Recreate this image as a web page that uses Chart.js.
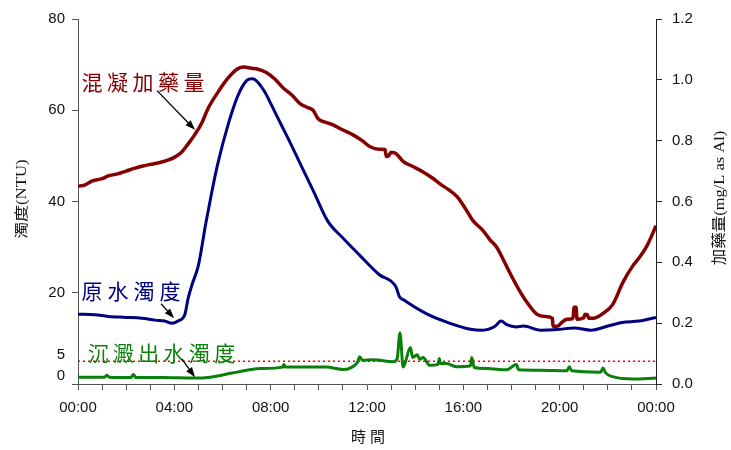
<!DOCTYPE html>
<html>
<head>
<meta charset="utf-8">
<script src="https://cdn.jsdelivr.net/npm/chart.js@4.4.0/dist/chart.umd.min.js"></script>
<style>
html, body { margin: 0; padding: 0; background: #fff; }
</style>
</head>
<body>
<canvas id="chart" width="731" height="450"></canvas>
<script>
'use strict';

// coagulant dose (mg/L as Al), right axis
var doseHours = [0, 0.3, 0.6, 1.0, 1.25, 1.6, 2.0, 2.3, 2.65, 3.0, 3.4, 3.7, 4.0, 4.3, 4.55, 4.85, 5.15, 5.4, 5.8, 6.2,
    6.6, 6.9, 7.2, 7.47, 7.8, 8.17, 8.5, 8.88, 9.22, 9.5, 9.76, 9.97, 10.3, 10.59, 11.0, 11.42, 11.8, 12.13, 12.5, 12.75,
    12.8, 12.9, 13.0, 13.2, 13.5, 13.9, 14.33, 14.7, 15.03, 15.4, 15.74, 16.1, 16.4, 16.8, 17.1, 17.4, 17.65, 18.0, 18.36, 18.7,
    19.06, 19.4, 19.7, 19.72, 19.9, 20.1, 20.3, 20.55, 20.6, 20.68, 20.72, 21.0, 21.05, 21.15, 21.2, 21.4, 21.8, 22.2, 22.63, 23.05,
    23.3, 23.63, 24]
var doseValues = [0.65, 0.655, 0.668, 0.675, 0.684, 0.69, 0.70, 0.708, 0.716, 0.722, 0.728, 0.735, 0.745, 0.762, 0.787, 0.82, 0.86, 0.906, 0.958, 1.003,
    1.035, 1.042, 1.038, 1.035, 1.025, 1.003, 0.975, 0.95, 0.922, 0.91, 0.9, 0.872, 0.86, 0.852, 0.835, 0.819, 0.80, 0.78, 0.772, 0.771,
    0.748, 0.75, 0.762, 0.758, 0.732, 0.715, 0.697, 0.678, 0.658, 0.638, 0.616, 0.575, 0.537, 0.506, 0.475, 0.448, 0.41, 0.355, 0.303, 0.262,
    0.229, 0.222, 0.216, 0.19, 0.19, 0.203, 0.213, 0.215, 0.252, 0.252, 0.213, 0.218, 0.229, 0.228, 0.216, 0.216, 0.232, 0.261, 0.335, 0.39,
    0.415, 0.455, 0.52]

// raw water turbidity (NTU), left axis
var rawHours = [0, 0.7, 1.25, 2.0, 2.65, 3.2, 3.6, 3.9, 4.15, 4.44, 4.57, 4.73, 5.0, 5.3, 5.56, 5.8, 6.23, 6.64, 7.0, 7.22,
    7.35, 7.77, 8.0, 8.47, 8.8, 9.3, 9.8, 10.37, 11.0, 11.7, 12.5, 13.2, 13.35, 13.5, 14.5, 15.45, 16.3, 16.8, 17.3, 17.57,
    17.8, 18.2, 18.5, 19.2, 20.0, 20.6, 21.3, 22.0, 22.6, 23.3, 24]
var rawValues = [15.3, 15.2, 14.8, 14.6, 14.4, 14.0, 13.8, 13.3, 13.8, 15.3, 18.7, 21.7, 26, 35, 42.2, 48.2, 56.8, 63.2, 66.5, 66.9,
    66.7, 63.9, 61.5, 56.5, 53, 47.5, 42, 35.7, 32, 28.2, 24, 21.3, 19.1, 18.5, 15.3, 13.3, 12, 11.8, 12.6, 13.8,
    13, 12.5, 12.7, 11.8, 12, 12.3, 11.8, 12.7, 13.5, 13.8, 14.6]

// settled water turbidity (NTU), left axis
var settledHours = [0, 1.1, 1.2, 1.3, 2.2, 2.3, 2.4, 3.5, 4.8, 5.5, 6.4, 7.0, 7.6, 8.5, 8.55, 8.6, 10.3, 11.0, 11.3, 11.6,
    11.7, 11.8, 12.25, 13.1, 13.25, 13.37, 13.5, 13.8, 13.9, 14.08, 14.2, 14.33, 14.6, 14.95, 15.0, 15.05, 15.3, 15.7, 16.3, 16.35,
    16.45, 17.0, 17.8, 18.2, 18.3, 19.2, 20.3, 20.4, 20.5, 21.7, 21.8, 21.9, 22.2, 23.05, 24]
var settledValues = [1.5, 1.5, 1.9, 1.5, 1.4, 2.1, 1.4, 1.4, 1.3, 1.5, 2.4, 3.0, 3.4, 3.7, 4.3, 3.7, 3.7, 3.2, 3.5, 4.7,
    6.0, 5.2, 5.3, 4.9, 5.5, 11.2, 3.7, 8.0, 5.8, 6.4, 5.4, 5.8, 4.1, 4.3, 5.6, 4.5, 4.5, 3.8, 4.0, 5.8,
    3.6, 3.4, 3.1, 4.3, 3.1, 3.0, 2.9, 3.8, 2.9, 2.6, 3.5, 2.5, 1.6, 1.1, 1.3]

// 5 NTU reference line
var limitHours = [0, 24]
var limitValues = [5, 5]

var leftTicks = [0, 20, 40, 60, 80]
var smallLeftLabels = [0, 5]

function toPoints(hours, values) {
    return hours.map(function (h, i) { return { x: h, y: values[i] } })
}

function pad(n) {
    return (n < 10 ? '0' : '') + n
}

function spacedText(ctx, text, x, y, adv) {
    var chars = Array.from(text)
    for (let i = 0; i < chars.length; i++) {
        ctx.fillText(chars[i], x + i * adv, y)
    }
}

function arrow(ctx, x1, y1, x2, y2) {
    let ang = Math.atan2(y2 - y1, x2 - x1)
    let len = 10
    ctx.beginPath()
    ctx.moveTo(x1, y1)
    ctx.lineTo(x2 - Math.cos(ang) * 4, y2 - Math.sin(ang) * 4)
    ctx.stroke()
    ctx.beginPath()
    ctx.moveTo(x2, y2)
    ctx.lineTo(x2 - len * Math.cos(ang) + 3.5 * Math.sin(ang), y2 - len * Math.sin(ang) - 3.5 * Math.cos(ang))
    ctx.lineTo(x2 - len * Math.cos(ang) - 3.5 * Math.sin(ang), y2 - len * Math.sin(ang) + 3.5 * Math.cos(ang))
    ctx.closePath()
    ctx.fill()
}

// labels with arrows, in (hours, NTU)
var notes = [
    { text: '混凝加藥量', color: '#850000', at: [0.15, 66.2], adv: 25.5, from: [3.28, 64.3], to: [4.86, 55.7] },
    { text: '原水濁度', color: '#000080', at: [0.15, 20.4], adv: 26, from: [3.45, 17.6], to: [3.99, 14.4] },
    { text: '沉澱出水濁度', color: '#0a7f0a', at: [0.4, 6.9], adv: 25.3, from: [4.32, 5.4], to: [4.86, 1.5] }
]

var extras = {
    id: 'extras',
    afterDraw: function (chart) {
        let ctx = chart.ctx
        let sx = chart.scales.x
        let sy = chart.scales.y
        ctx.save()

        // small labels near the bottom of the left axis
        ctx.fillStyle = '#111'
        ctx.font = '15px "Liberation Sans", Arial, sans-serif'
        ctx.textAlign = 'right'
        ctx.textBaseline = 'middle'
        ctx.fillText('5', 65, sy.getPixelForValue(5) - 6)
        ctx.fillText('0', 65, sy.getPixelForValue(0) - 8)

        // axis titles
        ctx.fillStyle = '#111'
        ctx.textAlign = 'center'
        ctx.font = '14px "Liberation Serif", "Noto Sans CJK TC", serif'
        ctx.save()
        ctx.translate(22, 199)
        ctx.rotate(-Math.PI / 2)
        ctx.scale(1.2, 1)
        ctx.fillText('濁度(NTU)', 0, 0)
        ctx.restore()

        ctx.font = '15px "Liberation Serif", "Noto Sans CJK TC", serif'
        ctx.save()
        ctx.translate(720, 198)
        ctx.rotate(-Math.PI / 2)
        ctx.scale(1.1, 1)
        ctx.fillText('加藥量(mg/L as Al)', 0, 0)
        ctx.restore()

        ctx.font = '15px "Noto Sans CJK TC", sans-serif'
        ctx.textAlign = 'left'
        spacedText(ctx, '時間', 351, 436, 19)

        // series labels and arrows
        for (let n of notes) {
            ctx.fillStyle = n.color
            ctx.font = '21px "Noto Sans CJK TC", sans-serif'
            ctx.textAlign = 'left'
            ctx.textBaseline = 'middle'
            spacedText(ctx, n.text, sx.getPixelForValue(n.at[0]), sy.getPixelForValue(n.at[1]), n.adv)
            ctx.strokeStyle = '#000'
            ctx.fillStyle = '#000'
            ctx.lineWidth = 1.3
            arrow(ctx, sx.getPixelForValue(n.from[0]), sy.getPixelForValue(n.from[1]),
                sx.getPixelForValue(n.to[0]), sy.getPixelForValue(n.to[1]))
        }
        ctx.restore()
    }
}

var tickFont = { family: '"Liberation Sans", Arial, sans-serif', size: 15 }
var axisColor = '#555'

var config = {
    type: 'line',
    data: {
        datasets: [
            {
                label: '混凝加藥量', data: toPoints(doseHours, doseValues), yAxisID: 'y2',
                borderColor: '#850000', borderWidth: 3.5, pointRadius: 0, cubicInterpolationMode: 'monotone'
            },
            {
                label: '原水濁度', data: toPoints(rawHours, rawValues), yAxisID: 'y',
                borderColor: '#000080', borderWidth: 3, pointRadius: 0, cubicInterpolationMode: 'monotone'
            },
            {
                label: '沉澱出水濁度', data: toPoints(settledHours, settledValues), yAxisID: 'y',
                borderColor: '#0a7f0a', borderWidth: 3, pointRadius: 0, cubicInterpolationMode: 'monotone'
            },
            {
                label: '5 NTU', data: toPoints(limitHours, limitValues), yAxisID: 'y',
                borderColor: '#ff0000', borderWidth: 1.5, borderDash: [2, 3], pointRadius: 0
            }
        ]
    },
    options: {
        responsive: false,
        animation: false,
        devicePixelRatio: 1,
        layout: { padding: { top: 12, left: 0, right: 0, bottom: 0 } },
        plugins: { legend: { display: false }, tooltip: { enabled: false } },
        scales: {
            x: {
                type: 'linear', min: 0, max: 24, position: 'bottom',
                ticks: {
                    stepSize: 1, autoSkip: false, maxRotation: 0, font: tickFont, color: '#111', padding: 9,
                    callback: function (v) { return v % 4 === 0 ? pad(v % 24) + ':00' : '' }
                },
                grid: { drawOnChartArea: false, drawTicks: true, tickLength: 6, color: axisColor },
                border: { display: true, color: axisColor, width: 1 },
                afterFit: function (s) { s.height = 66 }
            },
            y: {
                type: 'linear', min: 0, max: 80, position: 'left',
                afterBuildTicks: function (s) { s.ticks = leftTicks.map(function (v) { return { value: v } }) },
                ticks: {
                    font: tickFont, color: '#111', padding: 7,
                    callback: function (v) { return smallLeftLabels.indexOf(v) >= 0 ? '' : v }
                },
                grid: { drawOnChartArea: false, drawTicks: true, tickLength: 6, color: axisColor },
                border: { display: true, color: axisColor, width: 1 },
                afterFit: function (s) { s.width = 78 }
            },
            y2: {
                type: 'linear', min: 0, max: 1.2, position: 'right',
                ticks: {
                    stepSize: 0.2, font: tickFont, color: '#111', padding: 10,
                    callback: function (v) { return v.toFixed(1) }
                },
                grid: { drawOnChartArea: false, drawTicks: true, tickLength: 6, color: '#222' },
                border: { display: true, color: '#222', width: 1 },
                afterFit: function (s) { s.width = 75 }
            }
        }
    },
    plugins: [extras]
}

var chart = new Chart(document.getElementById('chart'), config)
</script>
</body>
</html>
